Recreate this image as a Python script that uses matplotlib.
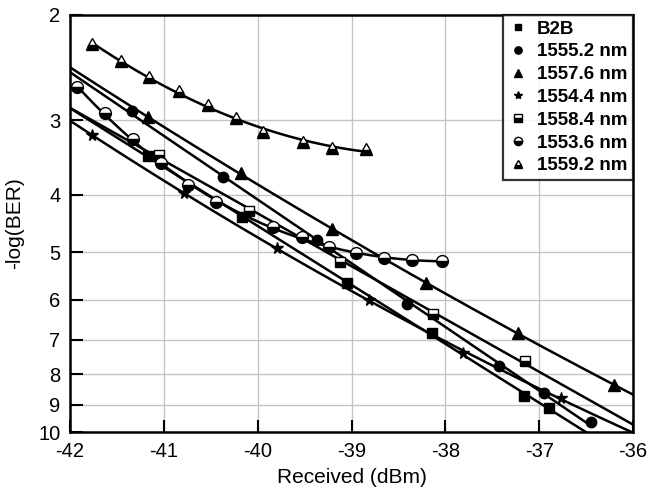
import numpy as np
import matplotlib.pyplot as plt

plt.rcParams['font.family'] = ['Liberation Sans', 'DejaVu Sans']
plt.rcParams['axes.unicode_minus'] = False

# received power (dBm) and -log(BER) for each channel
labels = ['B2B', '1555.2 nm', '1557.6 nm', '1554.4 nm', '1558.4 nm', '1553.6 nm', '1559.2 nm']

x_b2b = [-41.17, -40.17, -39.05, -38.14, -37.16, -36.89]
y_b2b = [3.45, 4.36, 5.63, 6.82, 8.70, 9.11]

x_1555 = [-41.34, -40.37, -39.37, -38.41, -37.43, -36.95, -36.45]
y_1555 = [2.90, 3.74, 4.77, 6.10, 7.75, 8.60, 9.62]

x_1557 = [-41.17, -40.18, -39.21, -38.21, -37.23, -36.20]
y_1557 = [2.97, 3.68, 4.57, 5.63, 6.82, 8.34]

x_1554 = [-41.77, -40.78, -39.79, -38.81, -37.81, -36.77]
y_1554 = [3.18, 3.98, 4.92, 6.01, 7.37, 8.77]

x_1558 = [-41.05, -40.09, -39.12, -38.13, -37.15]
y_1558 = [3.43, 4.26, 5.19, 6.34, 7.60]

x_1553 = [-41.93, -41.63, -41.33, -41.03, -40.74, -40.44, -39.84, -39.53, -39.24, -38.95, -38.65, -38.35, -38.04]
y_1553 = [2.64, 2.92, 3.23, 3.54, 3.85, 4.12, 4.53, 4.71, 4.90, 5.01, 5.11, 5.15, 5.17]

x_1559 = [-41.77, -41.46, -41.16, -40.84, -40.53, -40.23, -39.94, -39.52, -39.21, -38.85]
y_1559 = [2.24, 2.39, 2.54, 2.68, 2.83, 2.98, 3.14, 3.27, 3.34, 3.35]

xs = [x_b2b, x_1555, x_1557, x_1554, x_1558, x_1553, x_1559]
ys = [y_b2b, y_1555, y_1557, y_1554, y_1558, y_1553, y_1559]
markers = ['s', 'o', '^', '*', 's', 'o', '^']
fills = ['full', 'full', 'full', 'full', 'bottom', 'bottom', 'bottom']
sizes = [7, 7.5, 8, 8.5, 7.5, 8.5, 9]
# fit order and the range each fitted curve covers
orders = [1, 1, 2, 2, 1, 3, 2]
span = [(-42, -36), (-42, None), (-42, -36), (-42, -36), (-42, -36), (None, None), (None, None)]

fig = plt.figure(figsize=(6.61, 4.93), dpi=100)
ax = fig.add_axes([70/661, 1-432/493, 563/661, 417/493])

for x, y, m, fs, ms, deg, (a, b), lab in zip(xs, ys, markers, fills, sizes, orders, span, labels):
    x = np.array(x)
    p = np.polyfit(x, np.log10(y), deg)
    a = x.min() if a is None else a
    b = x.max() if b is None else b
    xf = np.linspace(a, b, 200)
    ax.plot(xf, 10**np.polyval(p, xf), color='black', lw=1.8, zorder=2)
    ax.plot(x, y, ls='none', marker=m, ms=ms, fillstyle=fs,
            markerfacecolor='black', markerfacecoloralt='white',
            markeredgecolor='black', markeredgewidth=1.0, label=lab, zorder=3)

ax.set_yscale('log')
ax.set_xlim(-42, -36)
ax.set_ylim(10, 2)
yt = [2, 3, 4, 5, 6, 7, 8, 9, 10]
ax.set_yticks(yt)
ax.set_yticklabels([str(v) for v in yt])
ax.yaxis.set_minor_locator(plt.NullLocator())
ax.set_xticks(range(-42, -35))
ax.tick_params(direction='in', length=9, width=1.5, labelsize=14.5, pad=7)
ax.grid(True, color='#c4c4c4', lw=1)
ax.set_axisbelow(True)
for s in ax.spines.values():
    s.set_linewidth(1.8)

ax.set_xlabel('Received (dBm)', fontsize=15, labelpad=5)
ax.set_ylabel('-log(BER)', fontsize=15, labelpad=10)

leg = ax.legend(loc='upper right', frameon=True, fancybox=False, edgecolor='black',
                prop={'weight': 'bold', 'size': 13.5}, borderaxespad=0,
                handlelength=1.0, handletextpad=0.5, labelspacing=0.3,
                markerscale=0.7, borderpad=0.3)
leg.get_frame().set_linewidth(1.6)

fig.savefig('out.png', dpi=100)
